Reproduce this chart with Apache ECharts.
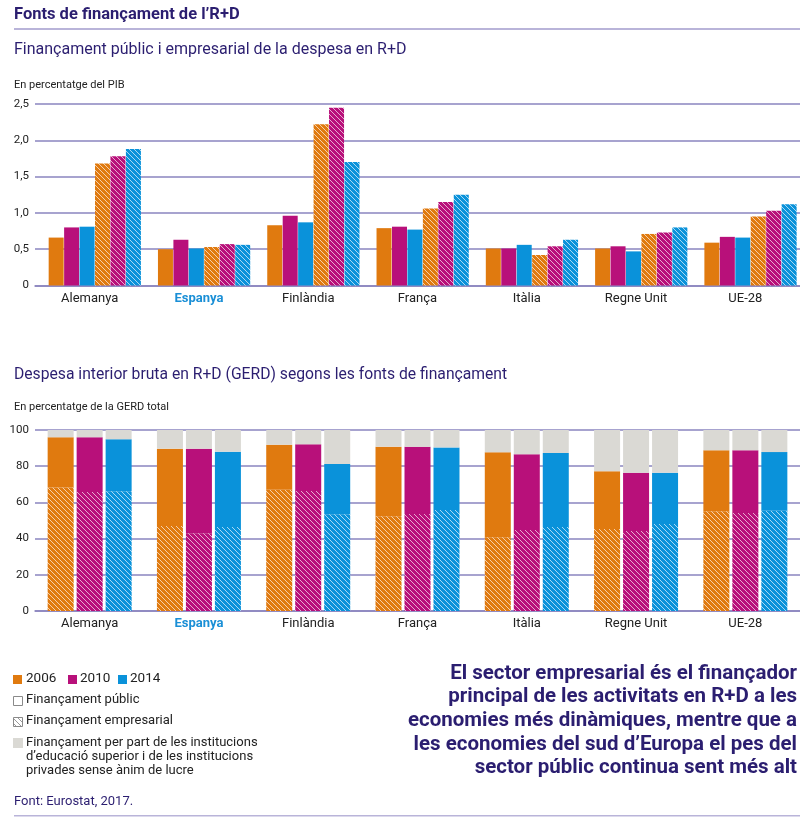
<!DOCTYPE html>
<html><head><meta charset="utf-8">
<script src="https://cdn.jsdelivr.net/npm/echarts@6/dist/echarts.min.js"></script>
<style>html,body{margin:0;padding:0;background:#fff}#c{width:800px;height:817px}</style>
</head><body><div id="c"></div>
<script>
// ---------- DATA ----------
const categories = ['Alemanya','Espanya','Finlàndia','França','Itàlia','Regne Unit','UE-28'];
const years = ['2006','2010','2014'];
const yTicksTop = [0, 0.5, 1.0, 1.5, 2.0, 2.5];
const yTicksBottom = [0, 20, 40, 60, 80, 100];
// Top chart: % of GDP
const public2006 = [0.66,0.50,0.83,0.79,0.51,0.51,0.59];
const public2010 = [0.80,0.63,0.96,0.81,0.51,0.54,0.67];
const public2014 = [0.81,0.51,0.87,0.77,0.56,0.47,0.66];
const business2006 = [1.68,0.53,2.22,1.06,0.42,0.71,0.95];
const business2010 = [1.78,0.57,2.45,1.15,0.54,0.73,1.03];
const business2014 = [1.88,0.56,1.70,1.25,0.63,0.80,1.12];
// Bottom chart: % of total GERD
const gerdBusiness2006 = [68.3,47.0,67.0,52.3,40.7,45.3,55.1];
const gerdBusiness2010 = [65.7,42.9,66.3,53.6,44.8,44.2,54.1];
const gerdBusiness2014 = [66.1,46.4,53.4,55.8,46.4,48.1,55.4];
const gerdPublic2006 = [27.7,42.7,24.9,38.5,47.0,31.9,33.7];
const gerdPublic2010 = [30.3,46.8,25.8,37.1,41.8,32.2,34.7];
const gerdPublic2014 = [28.8,41.6,27.8,34.6,40.9,28.3,32.4];
const gerdOther2006 = [4.0,10.3,8.1,9.2,12.3,22.8,11.2];
const gerdOther2010 = [4.0,10.3,7.9,9.3,13.4,23.6,11.2];
const gerdOther2014 = [5.1,12.0,18.8,9.6,12.7,23.6,12.2];

// ---------- STYLE ----------
const COLORS = {'2006':'#e07a0f','2010':'#b8107a','2014':'#0a92da'};
const GRAY = '#dad9d4';
const NAVY = '#2b1e70';
const GRID = '#8a84bf';
const TXT = '#222222';
const FONT = 'Roboto, "Liberation Sans", sans-serif';

function hatch(color){
  const c=document.createElement('canvas'); c.width=5; c.height=5;
  const g=c.getContext('2d'); g.fillStyle=color; g.fillRect(0,0,5,5);
  g.strokeStyle='rgba(255,255,255,0.65)'; g.lineWidth=1;
  g.beginPath();
  g.moveTo(-1,-1); g.lineTo(6,6);
  g.moveTo(-1,4); g.lineTo(1,6);
  g.moveTo(4,-1); g.lineTo(6,1);
  g.stroke();
  return {image:c, repeat:'repeat'};
}
function hatchIcon(){
  const c=document.createElement('canvas'); c.width=5; c.height=5;
  const g=c.getContext('2d'); g.fillStyle='#fff'; g.fillRect(0,0,5,5);
  g.strokeStyle='#9a9a9a'; g.lineWidth=1;
  g.beginPath();
  g.moveTo(-1,-1); g.lineTo(6,6);
  g.moveTo(-1,4); g.lineTo(1,6);
  g.moveTo(4,-1); g.lineTo(6,1);
  g.stroke();
  return {image:c, repeat:'repeat'};
}

const topPublic = {'2006':public2006,'2010':public2010,'2014':public2014};
const topBusiness = {'2006':business2006,'2010':business2010,'2014':business2014};
const botBusiness = {'2006':gerdBusiness2006,'2010':gerdBusiness2010,'2014':gerdBusiness2014};
const botPublic = {'2006':gerdPublic2006,'2010':gerdPublic2010,'2014':gerdPublic2014};
const botOther = {'2006':gerdOther2006,'2010':gerdOther2010,'2014':gerdOther2014};

const labelFmt = v => v==='Espanya' ? '{e|'+v+'}' : v;
function xAxis(idx, margin){
  return {type:'category', gridIndex:idx, data:categories,
    axisLine:{show:true, lineStyle:{color:GRID, width:1.5}},
    axisTick:{show:false},
    axisLabel:{color:TXT, fontSize:13, fontFamily:FONT, margin:margin, formatter:labelFmt,
      rich:{e:{color:'#1a8fd6', fontWeight:'bold', fontSize:13, fontFamily:FONT}}}};
}
function yAxis(idx, max, interval, fmt){
  return {type:'value', gridIndex:idx, min:0, max:max, interval:interval,
    axisLine:{show:false}, axisTick:{show:false},
    splitLine:{show:true, lineStyle:{color:GRID, width:1.5}},
    axisLabel:{color:TXT, fontSize:11.5, fontFamily:FONT, margin:6, formatter:fmt}};
}

const series = [];
// spacer to shift top groups like the reference
series.push({type:'bar', xAxisIndex:0, yAxisIndex:0, data:categories.map(()=>'-'), barWidth:10,
  silent:true, itemStyle:{color:'rgba(0,0,0,0)'}});
years.forEach(y=>{
  series.push({type:'bar', name:'pub'+y, xAxisIndex:0, yAxisIndex:0, data:topPublic[y], barWidth:15, barGap:'3%',
    itemStyle:{color:COLORS[y]}, silent:true});
});
years.forEach(y=>{
  series.push({type:'bar', name:'bus'+y, xAxisIndex:0, yAxisIndex:0, data:topBusiness[y], barWidth:15, barGap:'3%',
    itemStyle:{color:hatch(COLORS[y])}, silent:true});
});
years.forEach(y=>{
  series.push({type:'bar', stack:'s'+y, xAxisIndex:1, yAxisIndex:1, data:botBusiness[y], barWidth:26, barGap:'11.5%',
    itemStyle:{color:hatch(COLORS[y])}, silent:true});
  series.push({type:'bar', stack:'s'+y, xAxisIndex:1, yAxisIndex:1, data:botPublic[y], barWidth:26, barGap:'11.5%',
    itemStyle:{color:COLORS[y]}, silent:true});
  series.push({type:'bar', stack:'s'+y, xAxisIndex:1, yAxisIndex:1, data:botOther[y], barWidth:26, barGap:'11.5%',
    itemStyle:{color:GRAY}, silent:true});
});

const t = (x,y,text,style) => ({type:'text', x:x, y:y, style:Object.assign({text:text, fontFamily:FONT, fill:TXT, fontSize:13, verticalAlign:'top'}, style||{})});

const keyLines = ['El sector empresarial és el finançador',
  'principal de les activitats en R+D a les',
  'economies més dinàmiques, mentre que a',
  'les economies del sud d\u2019Europa el pes del',
  'sector públic continua sent més alt'];

const graphic = [
  t(14, 6, 'Fonts de finançament de l\u2019R+D', {fontSize:16.5, fontWeight:'bold', fill:NAVY}),
  {type:'rect', shape:{x:14, y:28, width:786, height:2}, style:{fill:'#b9b4d9'}},
  t(14, 42, 'Finançament públic i empresarial de la despesa en R+D', {fontSize:16, fill:NAVY}),
  t(14, 80, 'En percentatge del PIB', {fontSize:11}),
  t(14, 367, 'Despesa interior bruta en R+D (GERD) segons les fonts de finançament', {fontSize:15.7, fill:NAVY}),
  t(14, 402, 'En percentatge de la GERD total', {fontSize:11}),
  // legend
  {type:'rect', shape:{x:13, y:675, width:9, height:9}, style:{fill:COLORS['2006']}},
  t(26, 672, '2006', {fontSize:13.5}),
  {type:'rect', shape:{x:68, y:675, width:9, height:9}, style:{fill:COLORS['2010']}},
  t(80, 672, '2010', {fontSize:13.5}),
  {type:'rect', shape:{x:118, y:675, width:9, height:9}, style:{fill:COLORS['2014']}},
  t(130, 672, '2014', {fontSize:13.5}),
  {type:'rect', shape:{x:13.5, y:696.5, width:9, height:9}, style:{fill:'#fff', stroke:'#8a8a8a', lineWidth:1}},
  t(26, 693, 'Finançament públic', {fontSize:13}),
  {type:'rect', shape:{x:13.5, y:717.5, width:9, height:9}, style:{fill:hatchIcon(), stroke:'#8a8a8a', lineWidth:1}},
  t(26, 714, 'Finançament empresarial', {fontSize:13}),
  {type:'rect', shape:{x:13, y:738, width:10, height:10}, style:{fill:GRAY}},
  t(26, 735.5, 'Finançament per part de les institucions\nd\u2019educació superior i de les institucions\nprivades sense ànim de lucre', {fontSize:13, lineHeight:14}),
  t(14, 795, 'Font: Eurostat, 2017.', {fontSize:13, fill:NAVY}),
  {type:'rect', shape:{x:14, y:815, width:786, height:1.5}, style:{fill:'#b9b4d9'}}
];
keyLines.forEach((s,i)=>{
  graphic.push({type:'text', x:797, y:663 + i*23.7, style:{text:s, fontFamily:FONT, fontSize:20.5, fontWeight:'bold', fill:NAVY, align:'right', verticalAlign:'top'}});
});

const chart = echarts.init(document.getElementById('c'), null, {renderer:'canvas'});
chart.setOption({
  animation:false,
  backgroundColor:'#fff',
  textStyle:{fontFamily:FONT},
  grid:[{left:35, right:0, top:104, height:181.5}, {left:35, right:0, top:430, height:181}],
  xAxis:[xAxis(0,7), xAxis(1,6)],
  yAxis:[
    yAxis(0, 2.5, 0.5, v => v===0 ? '0' : v.toFixed(1).replace('.',',')),
    yAxis(1, 100, 20, v => String(v))
  ],
  series: series,
  graphic: graphic
});
</script></body></html>
